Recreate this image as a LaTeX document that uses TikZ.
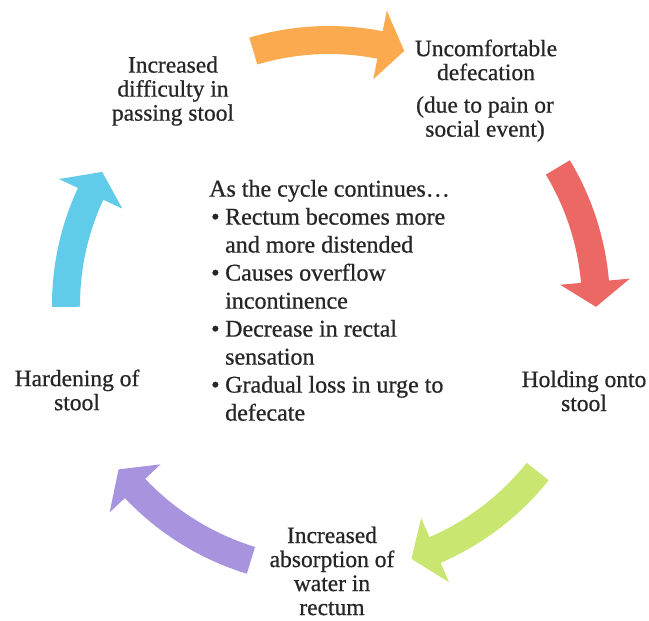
\documentclass[tikz,border=0pt]{standalone}
\usepackage{fontspec}
\setmainfont{Liberation Serif}[FakeBold=0.7]
\newcommand\cyclearrow[4]{% colour, tail angle, tip angle, radius
  \pgfmathsetmacro\cyab{#3+5.4}%
  \pgfmathsetmacro\cyro{#4+14}\pgfmathsetmacro\cyri{#4-14}%
  \pgfmathsetmacro\cyho{#4+35}\pgfmathsetmacro\cyhi{#4-35}%
  \fill[#1,shift={(C)}] (#2:\cyro) arc[start angle=#2,end angle=\cyab,radius=\cyro]
    -- (\cyab:\cyho) -- (#3:#4) -- (\cyab:\cyhi) -- (\cyab:\cyri)
    arc[start angle=\cyab,end angle=#2,radius=\cyri] -- cycle;
}
\begin{document}
\begin{tikzpicture}[x=1pt,y=1pt,
  lbl/.style={align=center, font=\fontsize{23.5}{24}\selectfont, text=black!85, inner sep=0pt},
  midtext/.style={align=left, font=\fontsize{24}{28}\selectfont, text=black!85, inner sep=0pt}]
\useasboundingbox (0,0) rectangle (649,621);
\fill[white] (0,0) rectangle (649,621);
\coordinate (C) at (329,316);
\definecolor{arrOrange}{RGB}{251,170,80}
\definecolor{arrRed}{RGB}{236,104,100}
\definecolor{arrGreen}{RGB}{200,230,112}
\definecolor{arrPurple}{RGB}{168,148,222}
\definecolor{arrCyan}{RGB}{96,204,234}
\cyclearrow{arrOrange}{106.6}{73.5}{265}
\cyclearrow{arrRed}{31}{-0.4}{267}
\cyclearrow{arrGreen}{-38.6}{-72}{267}
\cyclearrow{arrPurple}{-107}{-142}{267}
\cyclearrow{arrCyan}{180.4}{149.6}{263}
\node[lbl] (unc) at (486,561) {Uncomfortable\\defecation};
\node[lbl] (unc2) at (485,502) {(due to pain or\\social event)};
\node[lbl] (hold) at (584,230) {Holding onto\\stool};
\node[lbl] (absorb) at (332,50) {Increased\\absorption of\\water in\\rectum};
\node[lbl] (hard) at (77,231) {Hardening of\\stool};
\node[lbl] (diff) at (173,530) {Increased\\difficulty in\\passing stool};
\node[midtext, anchor=west] (mid) at (209,318) {%
  \begin{tabular}{@{}p{10pt}@{\hspace{6pt}}l@{}}
  \multicolumn{2}{@{}l@{}}{As the cycle continues…}\\
  \hspace*{2pt}\textbullet & Rectum becomes more\\
   & and more distended\\
  \hspace*{2pt}\textbullet & Causes overflow\\
   & incontinence\\
  \hspace*{2pt}\textbullet & Decrease in rectal\\
   & sensation\\
  \hspace*{2pt}\textbullet & Gradual loss in urge to\\
   & defecate
  \end{tabular}};
\end{tikzpicture}
\end{document}
